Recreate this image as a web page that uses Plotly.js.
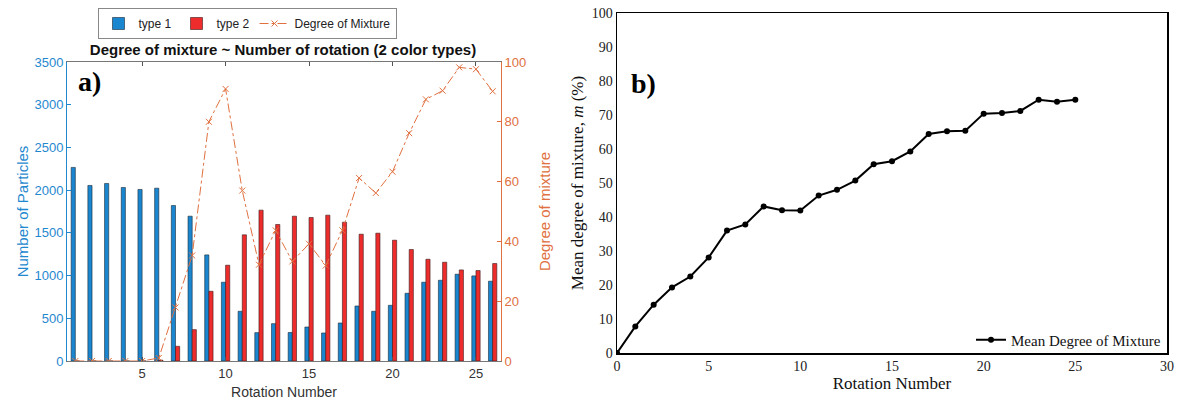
<!DOCTYPE html>
<html>
<head>
<meta charset="utf-8">
<script src="https://cdn.plot.ly/plotly-3.0.1.min.js"></script>
<style>html,body{margin:0;padding:0;background:#fff;}#chart{width:1180px;height:406px;}</style>
</head>
<body>
<div id="chart"></div>
<script>
// ---- Data: panel a) ----
const rotationA = [1,2,3,4,5,6,7,8,9,10,11,12,13,14,15,16,17,18,19,20,21,22,23,24,25,26];
const type1 = [2266,2055,2078,2031,2008,2023,1820,1695,1242,922,582,332,437,334,398,328,445,644,582,652,793,922,945,1016,996,934];
const type2 = [0,0,0,0,0,10,172,367,816,1121,1477,1766,1598,1695,1680,1707,1625,1484,1496,1414,1305,1191,1156,1066,1059,1141];
const degreeMix = [0,0,0,0,0,1,17.9,35.3,80.0,91.0,57.0,32.2,43.7,33.3,39.2,31.9,43.7,61.2,56.2,63.3,76.2,87.5,90.4,98.2,97.6,90.2];
const yTicksLeft = [0,500,1000,1500,2000,2500,3000,3500];
const yTicksRight = [0,20,40,60,80,100];
const xTicksA = [5,10,15,20,25];

// ---- Data: panel b) ----
const rotationB = [0,1,2,3,4,5,6,7,8,9,10,11,12,13,14,15,16,17,18,19,20,21,22,23,24,25];
const meanMix = [0,7.8,14.2,19.3,22.5,28.1,36.0,37.8,43.1,42.0,41.9,46.3,48.0,50.7,55.5,56.4,59.3,64.4,65.2,65.4,70.4,70.6,71.2,74.5,73.9,74.5];
const xTicksB = [0,5,10,15,20,25,30];
const yTicksB = [0,10,20,30,40,50,60,70,80,90,100];

const sans = 'Liberation Sans, Arial, sans-serif';
const serif = 'Liberation Serif, Times New Roman, serif';
const blueAx = '#1f88cf';
const orangeAx = '#e07040';

const traces = [
  {type:'bar', name:'type 1', x:rotationA, y:type1, xaxis:'x', yaxis:'y',
   marker:{color:'#1a86cf', line:{color:'#1b2a38', width:0.6}}, legend:'legend'},
  {type:'bar', name:'type 2', x:rotationA, y:type2, xaxis:'x', yaxis:'y',
   marker:{color:'#ee2c2c', line:{color:'#3a1a1a', width:0.6}}, legend:'legend'},
  {type:'scatter', mode:'lines+markers', name:'Degree of Mixture', x:rotationA, y:degreeMix,
   xaxis:'x', yaxis:'y2', line:{color:'#e0703f', width:1, dash:'dashdot'},
   marker:{symbol:'x-thin', size:6, line:{color:'#e0703f', width:1}, color:'#e0703f'}, legend:'legend'},
  {type:'scatter', mode:'lines+markers', name:'Mean Degree of Mixture', x:rotationB, y:meanMix,
   xaxis:'x2', yaxis:'y3', line:{color:'#000', width:2}, marker:{color:'#000', size:6, symbol:'circle'},
   legend:'legend2'}
];

const layout = {
  width:1180, height:406,
  margin:{l:0, r:0, t:0, b:0},
  paper_bgcolor:'#fff', plot_bgcolor:'rgba(0,0,0,0)',
  barmode:'group', bargap:0.5, bargroupgap:0,
  showlegend:true,
  font:{family:sans, color:'#262626'},
  xaxis:{domain:[67/1180, 501/1180], range:[0.5,26.5], tickvals:xTicksA, ticks:'inside', ticklen:4,
    tickcolor:'#555', showline:true, linecolor:'#777', linewidth:1, mirror:'ticks', zeroline:false, showgrid:false,
    tickfont:{family:sans, size:13, color:'#333'},
    title:{text:'Rotation Number', font:{family:sans, size:14, color:'#333'}, standoff:7}, anchor:'y'},
  yaxis:{domain:[45/406, 344/406], range:[0,3500], tickvals:yTicksLeft, ticks:'inside', ticklen:4,
    tickcolor:blueAx, showline:true, linecolor:blueAx, linewidth:1, zeroline:false, showgrid:false,
    tickfont:{family:sans, size:13, color:blueAx},
    title:{text:'Number of Particles', font:{family:sans, size:15, color:blueAx}, standoff:2}, anchor:'x'},
  yaxis2:{overlaying:'y', side:'right', range:[0,100], tickvals:yTicksRight, ticks:'inside', ticklen:4,
    tickcolor:orangeAx, showline:true, linecolor:orangeAx, linewidth:1, zeroline:false, showgrid:false,
    tickfont:{family:sans, size:13, color:orangeAx}, anchor:'x',
    title:{text:'Degree of mixture', font:{family:sans, size:15, color:orangeAx}, standoff:14}},
  xaxis2:{domain:[617/1180, 1167/1180], range:[0,30], tickvals:xTicksB, ticks:'', showline:true,
    linecolor:'#000', linewidth:1.5, mirror:true, zeroline:false, showgrid:false,
    tickfont:{family:serif, size:14, color:'#222'}, anchor:'y3',
    title:{text:'Rotation Number', font:{family:serif, size:17, color:'#111'}, standoff:4}},
  yaxis3:{domain:[53/406, 393/406], range:[0,100], tickvals:yTicksB, ticks:'', showline:true,
    linecolor:'#000', linewidth:1.5, mirror:true, zeroline:false, showgrid:false,
    tickfont:{family:serif, size:14, color:'#222'}, anchor:'x2',
    title:{text:'Mean degree of mixture, <i>m</i> (%)', font:{family:serif, size:17, color:'#111'}, standoff:4}},
  legend:{orientation:'h', x:247/1180, xanchor:'center', y:1-8/406, yanchor:'top',
    bordercolor:'#888', borderwidth:1, bgcolor:'#fff', font:{family:sans, size:12, color:'#222'},
    itemwidth:30, tracegroupgap:0, traceorder:'normal'},
  legend2:{x:1166/1180, xanchor:'right', y:(406-340)/406, yanchor:'middle', bgcolor:'rgba(0,0,0,0)',
    borderwidth:0, font:{family:serif, size:15, color:'#111'}},
  title:{text:'<b>Degree of mixture ~ Number of rotation (2 color types)</b>', x:283/1180, xanchor:'center',
    y:1-50/406, yanchor:'middle', font:{family:sans, size:15, color:'#111'}},
  annotations:[
    {text:'<b>a)</b>', xref:'paper', yref:'paper', x:89/1180, y:(406-81)/406, xanchor:'center', yanchor:'middle',
     showarrow:false, font:{family:serif, size:28, color:'#000'}},
    {text:'<b>b)</b>', xref:'paper', yref:'paper', x:644/1180, y:(406-84)/406, xanchor:'center', yanchor:'middle',
     showarrow:false, font:{family:serif, size:28, color:'#000'}}
  ]
};

Plotly.newPlot('chart', traces, layout, {displayModeBar:false, staticPlot:true});
</script>
</body>
</html>
